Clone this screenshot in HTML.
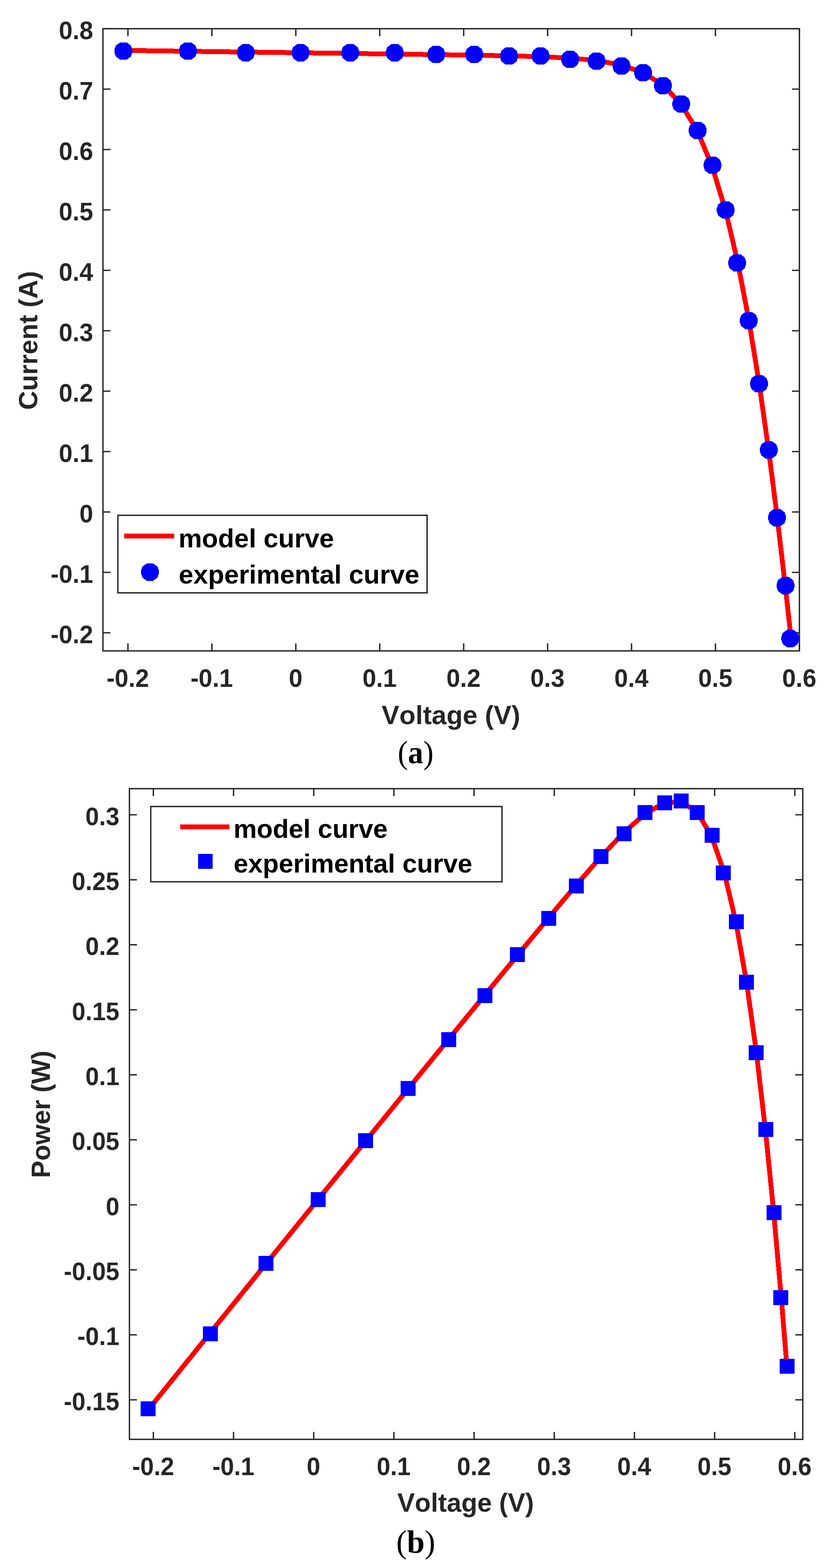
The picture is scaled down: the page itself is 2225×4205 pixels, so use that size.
<!DOCTYPE html>
<html><head><meta charset="utf-8"><title>Current-voltage and power-voltage curves</title>
<style>html,body{margin:0;padding:0;background:#fff}svg{display:block}text{font-kerning:none}</style>
</head><body>
<svg width="2225" height="4205" viewBox="0 0 2225 4205">
<rect x="0" y="0" width="2225" height="4205" fill="#fff"/>
<path d="M343 1745.5V1725.5M343 77V97M568 1745.5V1725.5M568 77V97M793 1745.5V1725.5M793 77V97M1018 1745.5V1725.5M1018 77V97M1243 1745.5V1725.5M1243 77V97M1468 1745.5V1725.5M1468 77V97M1693 1745.5V1725.5M1693 77V97M1918 1745.5V1725.5M1918 77V97M2143 1745.5V1725.5M2143 77V97M276 1697H296M2143 1697H2123M276 1535H296M2143 1535H2123M276 1373H296M2143 1373H2123M276 1211H296M2143 1211H2123M276 1049H296M2143 1049H2123M276 887H296M2143 887H2123M276 725H296M2143 725H2123M276 563H296M2143 563H2123M276 401H296M2143 401H2123M276 239H296M2143 239H2123M276 77H296M2143 77H2123" stroke="#262626" stroke-width="3.7" fill="none"/>
<rect x="276" y="77" width="1867" height="1668.5" stroke="#262626" stroke-width="3.7" fill="none"/>
<polyline points="330.18,135.18 502.53,137.49 660.7,139.6 805.83,141.55 938.35,143.33 1059.62,144.97 1170.55,146.51 1272.7,148.05 1365.62,149.76 1450.9,152.06 1528.53,155.75 1599.62,162.29 1664.42,174.04 1723.83,194.62 1776.93,227.74 1825.75,279.02 1869.4,350.97 1909,446.23 1944.78,563.83 1977.62,703.14 2007.55,859.11 2035.23,1029.4 2060.43,1206.6 2083.6,1387.99 2105.43,1574.51 2120.5,1711.9" stroke="#f00" stroke-width="13" fill="none" stroke-linejoin="round" shape-rendering="crispEdges"/>
<g fill="#00f" shape-rendering="crispEdges">
<polygon points="322,113.7 339.6,113.7 351,122.14 354.75,133 354.75,140.8 351,151.66 339.6,160.1 322,160.1 310.6,151.66 306.85,140.8 306.85,133 310.6,122.14"/>
<polygon points="495,113.7 512.6,113.7 524,122.14 527.75,133 527.75,140.8 524,151.66 512.6,160.1 495,160.1 483.6,151.66 479.85,140.8 479.85,133 483.6,122.14"/>
<polygon points="650.2,118.1 667.8,118.1 679.2,126.54 682.95,137.4 682.95,145.2 679.2,156.06 667.8,164.5 650.2,164.5 638.8,156.06 635.05,145.2 635.05,137.4 638.8,126.54"/>
<polygon points="796.9,118.1 814.5,118.1 825.9,126.54 829.65,137.4 829.65,145.2 825.9,156.06 814.5,164.5 796.9,164.5 785.5,156.06 781.75,145.2 781.75,137.4 785.5,126.54"/>
<polygon points="930.1,118.1 947.7,118.1 959.1,126.54 962.85,137.4 962.85,145.2 959.1,156.06 947.7,164.5 930.1,164.5 918.7,156.06 914.95,145.2 914.95,137.4 918.7,126.54"/>
<polygon points="1049.4,118.1 1067,118.1 1078.4,126.54 1082.15,137.4 1082.15,145.2 1078.4,156.06 1067,164.5 1049.4,164.5 1038,156.06 1034.25,145.2 1034.25,137.4 1038,126.54"/>
<polygon points="1160.6,122.7 1178.2,122.7 1189.6,131.14 1193.35,142 1193.35,149.8 1189.6,160.66 1178.2,169.1 1160.6,169.1 1149.2,160.66 1145.45,149.8 1145.45,142 1149.2,131.14"/>
<polygon points="1262.4,122.7 1280,122.7 1291.4,131.14 1295.15,142 1295.15,149.8 1291.4,160.66 1280,169.1 1262.4,169.1 1251,160.66 1247.25,149.8 1247.25,142 1251,131.14"/>
<polygon points="1355.7,127 1373.3,127 1384.7,135.44 1388.45,146.3 1388.45,154.1 1384.7,164.96 1373.3,173.4 1355.7,173.4 1344.3,164.96 1340.55,154.1 1340.55,146.3 1344.3,135.44"/>
<polygon points="1440.2,127 1457.8,127 1469.2,135.44 1472.95,146.3 1472.95,154.1 1469.2,164.96 1457.8,173.4 1440.2,173.4 1428.8,164.96 1425.05,154.1 1425.05,146.3 1428.8,135.44"/>
<polygon points="1519.4,135.8 1537,135.8 1548.4,144.24 1552.15,155.1 1552.15,162.9 1548.4,173.76 1537,182.2 1519.4,182.2 1508,173.76 1504.25,162.9 1504.25,155.1 1508,144.24"/>
<polygon points="1590.5,140.6 1608.1,140.6 1619.5,149.04 1623.25,159.9 1623.25,167.7 1619.5,178.56 1608.1,187 1590.5,187 1579.1,178.56 1575.35,167.7 1575.35,159.9 1579.1,149.04"/>
<polygon points="1657.3,153.8 1674.9,153.8 1686.3,162.24 1690.05,173.1 1690.05,180.9 1686.3,191.76 1674.9,200.2 1657.3,200.2 1645.9,191.76 1642.15,180.9 1642.15,173.1 1645.9,162.24"/>
<polygon points="1715.1,171.7 1732.7,171.7 1744.1,180.14 1747.85,191 1747.85,198.8 1744.1,209.66 1732.7,218.1 1715.1,218.1 1703.7,209.66 1699.95,198.8 1699.95,191 1703.7,180.14"/>
<polygon points="1768.3,206.5 1785.9,206.5 1797.3,214.94 1801.05,225.8 1801.05,233.6 1797.3,244.46 1785.9,252.9 1768.3,252.9 1756.9,244.46 1753.15,233.6 1753.15,225.8 1756.9,214.94"/>
<polygon points="1817.3,255.6 1834.9,255.6 1846.3,264.04 1850.05,274.9 1850.05,282.7 1846.3,293.56 1834.9,302 1817.3,302 1805.9,293.56 1802.15,282.7 1802.15,274.9 1805.9,264.04"/>
<polygon points="1861.3,326.7 1878.9,326.7 1890.3,335.14 1894.05,346 1894.05,353.8 1890.3,364.66 1878.9,373.1 1861.3,373.1 1849.9,364.66 1846.15,353.8 1846.15,346 1849.9,335.14"/>
<polygon points="1901.2,419.7 1918.8,419.7 1930.2,428.14 1933.95,439 1933.95,446.8 1930.2,457.66 1918.8,466.1 1901.2,466.1 1889.8,457.66 1886.05,446.8 1886.05,439 1889.8,428.14"/>
<polygon points="1936.6,539.7 1954.2,539.7 1965.6,548.14 1969.35,559 1969.35,566.8 1965.6,577.66 1954.2,586.1 1936.6,586.1 1925.2,577.66 1921.45,566.8 1921.45,559 1925.2,548.14"/>
<polygon points="1967.2,681.7 1984.8,681.7 1996.2,690.14 1999.95,701 1999.95,708.8 1996.2,719.66 1984.8,728.1 1967.2,728.1 1955.8,719.66 1952.05,708.8 1952.05,701 1955.8,690.14"/>
<polygon points="1998.3,836.6 2015.9,836.6 2027.3,845.04 2031.05,855.9 2031.05,863.7 2027.3,874.56 2015.9,883 1998.3,883 1986.9,874.56 1983.15,863.7 1983.15,855.9 1986.9,845.04"/>
<polygon points="2026,1005.7 2043.6,1005.7 2055,1014.14 2058.75,1025 2058.75,1032.8 2055,1043.66 2043.6,1052.1 2026,1052.1 2014.6,1043.66 2010.85,1032.8 2010.85,1025 2014.6,1014.14"/>
<polygon points="2052.2,1183.3 2069.8,1183.3 2081.2,1191.74 2084.95,1202.6 2084.95,1210.4 2081.2,1221.26 2069.8,1229.7 2052.2,1229.7 2040.8,1221.26 2037.05,1210.4 2037.05,1202.6 2040.8,1191.74"/>
<polygon points="2074.2,1365.1 2091.8,1365.1 2103.2,1373.54 2106.95,1384.4 2106.95,1392.2 2103.2,1403.06 2091.8,1411.5 2074.2,1411.5 2062.8,1403.06 2059.05,1392.2 2059.05,1384.4 2062.8,1373.54"/>
<polygon points="2097.1,1547.3 2114.7,1547.3 2126.1,1555.74 2129.85,1566.6 2129.85,1574.4 2126.1,1585.26 2114.7,1593.7 2097.1,1593.7 2085.7,1585.26 2081.95,1574.4 2081.95,1566.6 2085.7,1555.74"/>
<polygon points="2109.6,1689.1 2127.2,1689.1 2138.6,1697.54 2142.35,1708.4 2142.35,1716.2 2138.6,1727.06 2127.2,1735.5 2109.6,1735.5 2098.2,1727.06 2094.45,1716.2 2094.45,1708.4 2098.2,1697.54"/>
</g>
<g font-family="Liberation Sans, Arial, Helvetica, sans-serif" font-weight="bold">
<text transform="translate(249.6,1725) scale(1,1.04)" font-size="66" text-anchor="end" fill="#262626">-0.2</text>
<text transform="translate(249.6,1563) scale(1,1.04)" font-size="66" text-anchor="end" fill="#262626">-0.1</text>
<text transform="translate(249.6,1401) scale(1,1.04)" font-size="66" text-anchor="end" fill="#262626">0</text>
<text transform="translate(249.6,1239) scale(1,1.04)" font-size="66" text-anchor="end" fill="#262626">0.1</text>
<text transform="translate(249.6,1077) scale(1,1.04)" font-size="66" text-anchor="end" fill="#262626">0.2</text>
<text transform="translate(249.6,915) scale(1,1.04)" font-size="66" text-anchor="end" fill="#262626">0.3</text>
<text transform="translate(249.6,753) scale(1,1.04)" font-size="66" text-anchor="end" fill="#262626">0.4</text>
<text transform="translate(249.6,591) scale(1,1.04)" font-size="66" text-anchor="end" fill="#262626">0.5</text>
<text transform="translate(249.6,429) scale(1,1.04)" font-size="66" text-anchor="end" fill="#262626">0.6</text>
<text transform="translate(249.6,267) scale(1,1.04)" font-size="66" text-anchor="end" fill="#262626">0.7</text>
<text transform="translate(249.6,105) scale(1,1.04)" font-size="66" text-anchor="end" fill="#262626">0.8</text>
<text transform="translate(342.5,1841.8) scale(1,1.04)" font-size="66" text-anchor="middle" fill="#262626">-0.2</text>
<text transform="translate(567.5,1841.8) scale(1,1.04)" font-size="66" text-anchor="middle" fill="#262626">-0.1</text>
<text transform="translate(792.5,1841.8) scale(1,1.04)" font-size="66" text-anchor="middle" fill="#262626">0</text>
<text transform="translate(1017.5,1841.8) scale(1,1.04)" font-size="66" text-anchor="middle" fill="#262626">0.1</text>
<text transform="translate(1242.5,1841.8) scale(1,1.04)" font-size="66" text-anchor="middle" fill="#262626">0.2</text>
<text transform="translate(1467.5,1841.8) scale(1,1.04)" font-size="66" text-anchor="middle" fill="#262626">0.3</text>
<text transform="translate(1692.5,1841.8) scale(1,1.04)" font-size="66" text-anchor="middle" fill="#262626">0.4</text>
<text transform="translate(1917.5,1841.8) scale(1,1.04)" font-size="66" text-anchor="middle" fill="#262626">0.5</text>
<text transform="translate(2142.5,1841.8) scale(1,1.04)" font-size="66" text-anchor="middle" fill="#262626">0.6</text>
<text transform="translate(1208.8,1942.2)" font-size="71.2" text-anchor="middle" fill="#262626">Voltage (V)</text>
<text transform="translate(100.1,912.95) rotate(-90)" font-size="70.6" text-anchor="middle" fill="#262626">Current (A)</text>
</g>
<rect x="316" y="1381.9" width="828.9" height="208" fill="#fff" stroke="#262626" stroke-width="3.7"/>
<path d="M332.9 1437.5H467.2" stroke="#f00" stroke-width="13" shape-rendering="crispEdges"/>
<g fill="#00f" shape-rendering="crispEdges"><polygon points="393.2,1511.1 410.8,1511.1 422.2,1519.54 425.95,1530.4 425.95,1538.2 422.2,1549.06 410.8,1557.5 393.2,1557.5 381.8,1549.06 378.05,1538.2 378.05,1530.4 381.8,1519.54"/></g>
<g font-family="Liberation Sans, Arial, Helvetica, sans-serif" font-weight="bold" fill="#000">
<text transform="translate(478.4,1468.1)" font-size="70.8" fill="#000">model curve</text>
<text transform="translate(478.9,1564.9)" font-size="70.8" fill="#000">experimental curve</text>
</g>
<text transform="translate(1114.1,2046.6) scale(0.96,1)" font-size="85.7" text-anchor="middle" fill="#000" font-family="Liberation Serif, Times New Roman, serif">(<tspan font-weight="bold">a</tspan>)</text>
<path d="M411.12 3860V3840M411.12 2115V2135M626.06 3860V3840M626.06 2115V2135M841 3860V3840M841 2115V2135M1055.94 3860V3840M1055.94 2115V2135M1270.88 3860V3840M1270.88 2115V2135M1485.82 3860V3840M1485.82 2115V2135M1700.76 3860V3840M1700.76 2115V2135M1915.7 3860V3840M1915.7 2115V2135M2130.64 3860V3840M2130.64 2115V2135M347 3754.01H367M2152 3754.01H2132M347 3579.68H367M2152 3579.68H2132M347 3405.34H367M2152 3405.34H2132M347 3231.01H367M2152 3231.01H2132M347 3056.68H367M2152 3056.68H2132M347 2882.34H367M2152 2882.34H2132M347 2708.01H367M2152 2708.01H2132M347 2533.67H367M2152 2533.67H2132M347 2359.34H367M2152 2359.34H2132M347 2185H367M2152 2185H2132" stroke="#262626" stroke-width="3.7" fill="none"/>
<rect x="347" y="2115" width="1805" height="1745" stroke="#262626" stroke-width="3.7" fill="none"/>
<polyline points="398.87,3779.02 563.51,3574.31 714.62,3387.1 853.25,3215.9 979.85,3060.04 1095.7,2917.81 1201.67,2788.06 1299.25,2668.92 1388.02,2560.97 1469.48,2462.64 1543.64,2374.58 1611.56,2296.84 1673.46,2231.58 1730.21,2181.78 1780.93,2153.09 1827.57,2150.27 1869.27,2178.67 1907.1,2241.65 1941.28,2339.5 1972.66,2471.94 2001.25,2633.97 2027.68,2822.72 2051.76,3029.27 2073.9,3249.52 2094.75,3483.99 2109.15,3661.36" stroke="#f00" stroke-width="13" fill="none" stroke-linejoin="round" shape-rendering="crispEdges"/>
<g fill="#00f" shape-rendering="crispEdges">
<rect x="377" y="3758.4" width="40" height="40"/>
<rect x="544.2" y="3556.5" width="40" height="40"/>
<rect x="693" y="3367.7" width="40" height="40"/>
<rect x="833" y="3196.9" width="40" height="40"/>
<rect x="960" y="3039.4" width="40" height="40"/>
<rect x="1074" y="2899" width="40" height="40"/>
<rect x="1183.4" y="2767.9" width="40" height="40"/>
<rect x="1280.1" y="2649.5" width="40" height="40"/>
<rect x="1367.4" y="2539.8" width="40" height="40"/>
<rect x="1450.9" y="2443.1" width="40" height="40"/>
<rect x="1525" y="2356" width="40" height="40"/>
<rect x="1591" y="2277" width="40" height="40"/>
<rect x="1652.5" y="2216" width="40" height="40"/>
<rect x="1709" y="2159" width="40" height="40"/>
<rect x="1761.9" y="2132.6" width="40" height="40"/>
<rect x="1805.9" y="2128" width="40" height="40"/>
<rect x="1849.4" y="2159" width="40" height="40"/>
<rect x="1889" y="2219.8" width="40" height="40"/>
<rect x="1919.4" y="2320.6" width="40" height="40"/>
<rect x="1954.4" y="2451.9" width="40" height="40"/>
<rect x="1980.9" y="2614.4" width="40" height="40"/>
<rect x="2006.9" y="2802.9" width="40" height="40"/>
<rect x="2033.4" y="3008.9" width="40" height="40"/>
<rect x="2055.4" y="3232" width="40" height="40"/>
<rect x="2072.9" y="3459.9" width="40" height="40"/>
<rect x="2090.4" y="3643.9" width="40" height="40"/>
</g>
<g font-family="Liberation Sans, Arial, Helvetica, sans-serif" font-weight="bold">
<text transform="translate(320,3781.82) scale(1,1.04)" font-size="65.4" text-anchor="end" fill="#262626">-0.15</text>
<text transform="translate(320,3607.48) scale(1,1.04)" font-size="65.4" text-anchor="end" fill="#262626">-0.1</text>
<text transform="translate(320,3433.14) scale(1,1.04)" font-size="65.4" text-anchor="end" fill="#262626">-0.05</text>
<text transform="translate(320,3258.81) scale(1,1.04)" font-size="65.4" text-anchor="end" fill="#262626">0</text>
<text transform="translate(320,3084.48) scale(1,1.04)" font-size="65.4" text-anchor="end" fill="#262626">0.05</text>
<text transform="translate(320,2910.14) scale(1,1.04)" font-size="65.4" text-anchor="end" fill="#262626">0.1</text>
<text transform="translate(320,2735.81) scale(1,1.04)" font-size="65.4" text-anchor="end" fill="#262626">0.15</text>
<text transform="translate(320,2561.47) scale(1,1.04)" font-size="65.4" text-anchor="end" fill="#262626">0.2</text>
<text transform="translate(320,2387.14) scale(1,1.04)" font-size="65.4" text-anchor="end" fill="#262626">0.25</text>
<text transform="translate(320,2212.8) scale(1,1.04)" font-size="65.4" text-anchor="end" fill="#262626">0.3</text>
<text transform="translate(410.62,3956) scale(1,1.04)" font-size="65.4" text-anchor="middle" fill="#262626">-0.2</text>
<text transform="translate(625.56,3956) scale(1,1.04)" font-size="65.4" text-anchor="middle" fill="#262626">-0.1</text>
<text transform="translate(840.5,3956) scale(1,1.04)" font-size="65.4" text-anchor="middle" fill="#262626">0</text>
<text transform="translate(1055.44,3956) scale(1,1.04)" font-size="65.4" text-anchor="middle" fill="#262626">0.1</text>
<text transform="translate(1270.38,3956) scale(1,1.04)" font-size="65.4" text-anchor="middle" fill="#262626">0.2</text>
<text transform="translate(1485.32,3956) scale(1,1.04)" font-size="65.4" text-anchor="middle" fill="#262626">0.3</text>
<text transform="translate(1700.26,3956) scale(1,1.04)" font-size="65.4" text-anchor="middle" fill="#262626">0.4</text>
<text transform="translate(1915.2,3956) scale(1,1.04)" font-size="65.4" text-anchor="middle" fill="#262626">0.5</text>
<text transform="translate(2130.14,3956) scale(1,1.04)" font-size="65.4" text-anchor="middle" fill="#262626">0.6</text>
<text transform="translate(1248.4,4053.9)" font-size="70.1" text-anchor="middle" fill="#262626">Voltage (V)</text>
<text transform="translate(134.1,2988.4) rotate(-90)" font-size="69.9" text-anchor="middle" fill="#262626">Power (W)</text>
</g>
<rect x="404.1" y="2162.9" width="941.6" height="201.8" fill="#fff" stroke="#262626" stroke-width="3.7"/>
<path d="M483 2217.4H615" stroke="#f00" stroke-width="12.6" shape-rendering="crispEdges"/>
<rect x="530.6" y="2290.1" width="39.5" height="39.7" fill="#00f" shape-rendering="crispEdges"/>
<g font-family="Liberation Sans, Arial, Helvetica, sans-serif" font-weight="bold" fill="#000">
<text transform="translate(625.9,2247.2)" font-size="70.2" fill="#000">model curve</text>
<text transform="translate(626.2,2339.9)" font-size="70.2" fill="#000">experimental curve</text>
</g>
<text transform="translate(1114.5,4163.6) scale(1,1)" font-size="85.7" text-anchor="middle" fill="#000" font-family="Liberation Serif, Times New Roman, serif">(<tspan font-weight="bold">b</tspan>)</text>
</svg>
</body></html>
